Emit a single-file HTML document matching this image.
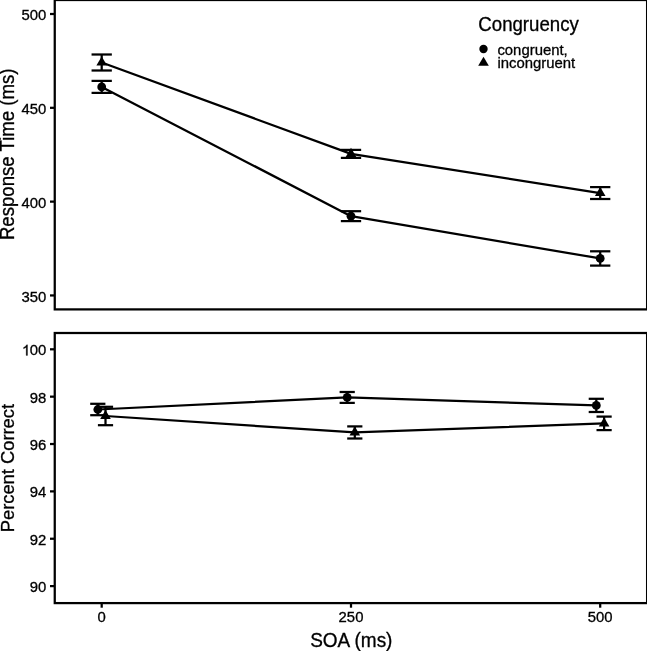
<!DOCTYPE html>
<html><head><meta charset="utf-8"><style>
html,body{margin:0;padding:0;background:#fff;}
body{width:647px;height:651px;overflow:hidden;}
svg{display:block;will-change:transform;}
text{font-family:"Liberation Sans",sans-serif;}
</style></head><body>
<svg width="647" height="651" viewBox="0 0 647 651">
<rect width="100%" height="100%" fill="#fff"/>
<g stroke="#000" stroke-width="2.25" stroke-linecap="butt" stroke-linejoin="round" fill="none">
<polyline points="101.70,62.50 351.00,153.90 600.20,193.05" fill="none"/>
<polyline points="101.70,86.90 351.00,216.15 600.20,258.45" fill="none"/>
<polyline points="97.80,409.50 347.20,397.45 596.30,405.40" fill="none"/>
<polyline points="105.50,416.00 354.80,432.45 604.10,423.35" fill="none"/>
<line x1="101.7" y1="54.5" x2="101.7" y2="70.5"/>
<line x1="91.55" y1="54.5" x2="111.85000000000001" y2="54.5"/>
<line x1="91.55" y1="70.5" x2="111.85000000000001" y2="70.5"/>
<line x1="351.0" y1="149.9" x2="351.0" y2="157.9"/>
<line x1="340.85" y1="149.9" x2="361.15" y2="149.9"/>
<line x1="340.85" y1="157.9" x2="361.15" y2="157.9"/>
<line x1="600.2" y1="187.1" x2="600.2" y2="199.0"/>
<line x1="590.0500000000001" y1="187.1" x2="610.35" y2="187.1"/>
<line x1="590.0500000000001" y1="199.0" x2="610.35" y2="199.0"/>
<line x1="101.7" y1="80.9" x2="101.7" y2="92.9"/>
<line x1="91.55" y1="80.9" x2="111.85000000000001" y2="80.9"/>
<line x1="91.55" y1="92.9" x2="111.85000000000001" y2="92.9"/>
<line x1="351.0" y1="211.2" x2="351.0" y2="221.1"/>
<line x1="340.85" y1="211.2" x2="361.15" y2="211.2"/>
<line x1="340.85" y1="221.1" x2="361.15" y2="221.1"/>
<line x1="600.2" y1="251.3" x2="600.2" y2="265.6"/>
<line x1="590.0500000000001" y1="251.3" x2="610.35" y2="251.3"/>
<line x1="590.0500000000001" y1="265.6" x2="610.35" y2="265.6"/>
<line x1="97.8" y1="403.8" x2="97.8" y2="415.2"/>
<line x1="90.2" y1="403.8" x2="105.39999999999999" y2="403.8"/>
<line x1="90.2" y1="415.2" x2="105.39999999999999" y2="415.2"/>
<line x1="347.2" y1="392.0" x2="347.2" y2="402.9"/>
<line x1="339.59999999999997" y1="392.0" x2="354.8" y2="392.0"/>
<line x1="339.59999999999997" y1="402.9" x2="354.8" y2="402.9"/>
<line x1="596.3" y1="398.8" x2="596.3" y2="412.0"/>
<line x1="588.6999999999999" y1="398.8" x2="603.9" y2="398.8"/>
<line x1="588.6999999999999" y1="412.0" x2="603.9" y2="412.0"/>
<line x1="105.5" y1="406.8" x2="105.5" y2="425.2"/>
<line x1="97.9" y1="406.8" x2="113.1" y2="406.8"/>
<line x1="97.9" y1="425.2" x2="113.1" y2="425.2"/>
<line x1="354.8" y1="426.4" x2="354.8" y2="438.5"/>
<line x1="347.2" y1="426.4" x2="362.40000000000003" y2="426.4"/>
<line x1="347.2" y1="438.5" x2="362.40000000000003" y2="438.5"/>
<line x1="604.1" y1="416.6" x2="604.1" y2="430.1"/>
<line x1="596.5" y1="416.6" x2="611.7" y2="416.6"/>
<line x1="596.5" y1="430.1" x2="611.7" y2="430.1"/>
</g>
<polygon points="101.7,56.38 107.00,65.56 96.40,65.56" fill="#000" stroke="none"/>
<polygon points="351.0,147.78 356.30,156.96 345.70,156.96" fill="#000" stroke="none"/>
<polygon points="600.2,186.93 605.50,196.11 594.90,196.11" fill="#000" stroke="none"/>
<circle cx="101.7" cy="86.9" r="4.4" fill="#000" stroke="none"/>
<circle cx="351.0" cy="216.14999999999998" r="4.4" fill="#000" stroke="none"/>
<circle cx="600.2" cy="258.45000000000005" r="4.4" fill="#000" stroke="none"/>
<polygon points="105.5,409.88 110.80,419.06 100.20,419.06" fill="#000" stroke="none"/>
<polygon points="354.8,426.33 360.10,435.51 349.50,435.51" fill="#000" stroke="none"/>
<polygon points="604.1,417.23 609.40,426.41 598.80,426.41" fill="#000" stroke="none"/>
<circle cx="97.8" cy="409.5" r="4.4" fill="#000" stroke="none"/>
<circle cx="347.2" cy="397.45" r="4.4" fill="#000" stroke="none"/>
<circle cx="596.3" cy="405.4" r="4.4" fill="#000" stroke="none"/>
<rect x="54.75" y="0.0" width="592.35" height="309.4" fill="none" stroke="#000" stroke-width="2.25"/>
<rect x="54.75" y="333.0" width="592.35" height="270.1" fill="none" stroke="#000" stroke-width="2.25"/>
<g stroke="#000" stroke-width="2.25">
<line x1="50.0" y1="14.00" x2="54.75" y2="14.00"/>
<line x1="50.0" y1="107.82" x2="54.75" y2="107.82"/>
<line x1="50.0" y1="201.63" x2="54.75" y2="201.63"/>
<line x1="50.0" y1="295.45" x2="54.75" y2="295.45"/>
<line x1="50.0" y1="349.30" x2="54.75" y2="349.30"/>
<line x1="50.0" y1="396.66" x2="54.75" y2="396.66"/>
<line x1="50.0" y1="444.02" x2="54.75" y2="444.02"/>
<line x1="50.0" y1="491.38" x2="54.75" y2="491.38"/>
<line x1="50.0" y1="538.74" x2="54.75" y2="538.74"/>
<line x1="50.0" y1="586.10" x2="54.75" y2="586.10"/>
<line x1="101.7" y1="603.1" x2="101.7" y2="607.7"/>
<line x1="351.0" y1="603.1" x2="351.0" y2="607.7"/>
<line x1="600.2" y1="603.1" x2="600.2" y2="607.7"/>
</g>
<g font-family="Liberation Sans, sans-serif" fill="#000" stroke="#000" stroke-width="0.3">
<text transform="translate(46.40,20.09) scale(1,1.04)" font-size="14.9" text-anchor="end">500</text>
<text transform="translate(46.40,113.90) scale(1,1.04)" font-size="14.9" text-anchor="end">450</text>
<text transform="translate(46.40,207.72) scale(1,1.04)" font-size="14.9" text-anchor="end">400</text>
<text transform="translate(46.40,301.54) scale(1,1.04)" font-size="14.9" text-anchor="end">350</text>
<text transform="translate(46.40,355.39) scale(1,1.04)" font-size="14.9" text-anchor="end">00</text>
<path d="M763,0L583,0L583,1147C540,1106 483,1065 413,1024C342,983 279,952 223,931L223,1105C323,1152 411,1210 486,1277C561,1344 614,1409 645,1472L763,1472Z" transform="translate(21.94,355.39) scale(0.00728,-0.00717)" vector-effect="non-scaling-stroke"/>
<text transform="translate(46.40,402.75) scale(1,1.04)" font-size="14.9" text-anchor="end">98</text>
<text transform="translate(46.40,450.11) scale(1,1.04)" font-size="14.9" text-anchor="end">96</text>
<text transform="translate(46.40,497.47) scale(1,1.04)" font-size="14.9" text-anchor="end">94</text>
<text transform="translate(46.40,544.83) scale(1,1.04)" font-size="14.9" text-anchor="end">92</text>
<text transform="translate(46.40,592.19) scale(1,1.04)" font-size="14.9" text-anchor="end">90</text>
<text transform="translate(101.70,622.30) scale(1,1.04)" font-size="14.9" text-anchor="middle">0</text>
<text transform="translate(351.00,622.30) scale(1,1.04)" font-size="14.9" text-anchor="middle">250</text>
<text transform="translate(600.20,622.30) scale(1,1.04)" font-size="14.9" text-anchor="middle">500</text>
<text transform="translate(497.40,54.60) scale(1,1.04)" font-size="14.9" text-anchor="start">congruent,</text>
<text transform="translate(497.40,68.20) scale(1,1.04)" font-size="14.9" text-anchor="start">incongruent</text>
<text transform="translate(351.30,647.30) scale(1,1.04)" font-size="19.0" text-anchor="middle">SOA (ms)</text>
<text transform="translate(14.10,154.30) rotate(-90) scale(1,1.04)" font-size="18.6" text-anchor="middle">Response Time (ms)</text>
<text transform="translate(14.00,468.10) rotate(-90) scale(1,1.04)" font-size="18.33" text-anchor="middle">Percent Correct</text>
<text transform="translate(478.30,30.60) scale(1,1.04)" font-size="18.65" text-anchor="start">Congruency</text>
</g>
<circle cx="483.5" cy="49.0" r="4.2" fill="#000" stroke="none"/>
<polygon points="483.5,56.68 488.80,65.86 478.20,65.86" fill="#000" stroke="none"/>
</svg>
</body></html>
